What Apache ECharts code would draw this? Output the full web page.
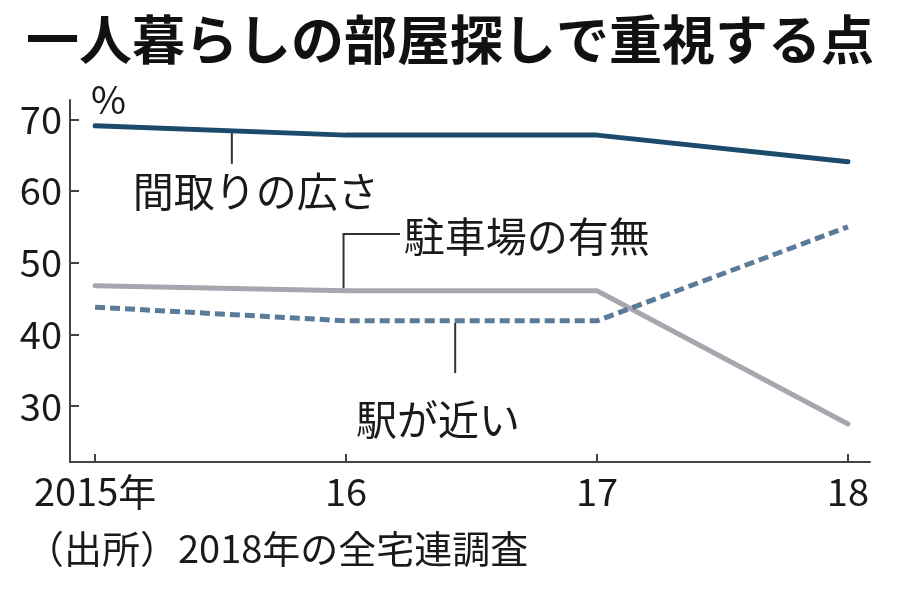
<!DOCTYPE html>
<html>
<head>
<meta charset="utf-8">
<script src="https://cdn.jsdelivr.net/npm/echarts@6/dist/echarts.min.js"></script>
<style>
html, body { margin: 0; padding: 0; background: #fff; }
#main { width: 900px; height: 597px; }
</style>
</head>
<body>
<div id="main"></div>
<script>
// data (%)
var years = [2015, 2016, 2017, 2018];
var yearLabels = ['2015年', '16', '17', '18'];
var yTicks = [30, 40, 50, 60, 70];
var madori = [69.1, 67.8, 67.8, 64.1];   // 間取りの広さ
var chusha = [46.8, 46.1, 46.1, 27.5];   // 駐車場の有無
var eki = [43.8, 41.9, 41.9, 55.0];      // 駅が近い

var jpFont = '"Noto Sans CJK JP", sans-serif';

function pairs(vals) {
    return years.map(function (y, i) { return [y, vals[i]]; });
}

// linear value of a series at a fractional year
function valueAt(vals, x) {
    for (var i = 0; i < years.length - 1; i++) {
        if (x >= years[i] && x <= years[i + 1]) {
            var t = (x - years[i]) / (years[i + 1] - years[i]);
            return vals[i] + t * (vals[i + 1] - vals[i]);
        }
    }
    return vals[vals.length - 1];
}

var chart = echarts.init(document.getElementById('main'));

chart.setOption({
    animation: false,
    backgroundColor: '#fff',
    title: {
        text: '一人暮らしの部屋探しで重視する点',
        left: 'center',
        top: 8,
        textStyle: { fontFamily: jpFont, fontSize: 53, fontWeight: 'bold', color: '#111' }
    },
    grid: { left: 70, right: 30, top: 100, bottom: 135 },
    xAxis: {
        type: 'value',
        min: 2014.9,
        max: 2018.088,
        splitLine: { show: false },
        axisLine: { show: true, lineStyle: { color: '#444', width: 2 } },
        axisTick: { show: true, inside: true, length: 8, customValues: years,
            lineStyle: { color: '#444', width: 2 } },
        axisLabel: {
            customValues: years,
            margin: 11,
            fontFamily: jpFont, fontSize: 38, color: '#1a1a1a',
            formatter: function (v) { return yearLabels[years.indexOf(Math.round(v))]; }
        }
    },
    yAxis: {
        type: 'value',
        min: 22.2,
        max: 72.7,
        splitLine: { show: false },
        axisLine: { show: true, lineStyle: { color: '#444', width: 2 } },
        axisTick: { show: true, inside: true, length: 9, customValues: yTicks,
            lineStyle: { color: '#444', width: 2 } },
        axisLabel: {
            customValues: yTicks,
            margin: 8,
            fontFamily: jpFont, fontSize: 38, color: '#1a1a1a'
        }
    },
    series: [
        {
            name: '間取りの広さ', type: 'line', data: pairs(madori),
            symbol: 'none', lineStyle: { color: '#1b4a6b', width: 5, cap: 'round' }
        },
        {
            name: '駐車場の有無', type: 'line', data: pairs(chusha),
            symbol: 'none', lineStyle: { color: '#a9a5ae', width: 5, cap: 'round' }
        },
        {
            name: '駅が近い', type: 'line', data: pairs(eki),
            symbol: 'none', lineStyle: { color: '#5b7b9a', width: 5, type: [10, 5] }
        }
    ]
});

function px(x, y) {
    return chart.convertToPixel({ gridIndex: 0 }, [x, y]);
}

var lineStyle = { stroke: '#333', lineWidth: 2 };
var g = [];

// 間取りの広さ
var a0 = px(2015.545, valueAt(madori, 2015.545));
var a1 = px(2015.545, 63.8);
g.push({ type: 'line', shape: { x1: a0[0], y1: a0[1] + 2, x2: a1[0], y2: a1[1] }, style: lineStyle });
var at = px(2015.15, 60.0);
g.push({ type: 'text', x: at[0], y: at[1],
    style: { text: '間取りの広さ', font: '41px ' + jpFont, fill: '#1a1a1a', textVerticalAlign: 'middle' } });

// 駐車場の有無
var b0 = px(2015.99, valueAt(chusha, 2015.99));
var b1 = px(2015.99, 54.0);
var b2 = px(2016.215, 54.0);
g.push({ type: 'polyline', shape: { points: [[b0[0], b0[1] - 2], b1, b2] }, style: lineStyle });
var bt = px(2016.23, 53.7);
g.push({ type: 'text', x: bt[0], y: bt[1],
    style: { text: '駐車場の有無', font: '41px ' + jpFont, fill: '#1a1a1a', textVerticalAlign: 'middle' } });

// 駅が近い
var c0 = px(2016.435, valueAt(eki, 2016.435));
var c1 = px(2016.435, 34.6);
g.push({ type: 'line', shape: { x1: c0[0], y1: c0[1] + 2, x2: c1[0], y2: c1[1] }, style: lineStyle });
var ct = px(2016.04, 28.1);
g.push({ type: 'text', x: ct[0], y: ct[1],
    style: { text: '駅が近い', font: '41px ' + jpFont, fill: '#1a1a1a', textVerticalAlign: 'middle' } });

// unit and source
var pt = px(2015.0, 72.4);
g.push({ type: 'text', x: pt[0] - 4, y: pt[1] - 3,
    style: { text: '%', font: '38px ' + jpFont, fill: '#1a1a1a', textVerticalAlign: 'middle' } });
g.push({ type: 'text', left: 26, top: 530,
    style: { text: '（出所）2018年の全宅連調査', font: '38px ' + jpFont, fill: '#1a1a1a' } });

chart.setOption({ graphic: g });
</script>
</body>
</html>
